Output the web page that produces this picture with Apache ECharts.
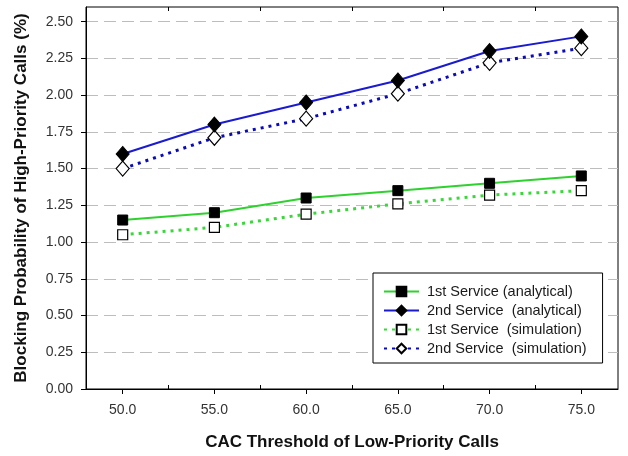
<!DOCTYPE html>
<html>
<head>
<meta charset="utf-8">
<script src="https://cdn.jsdelivr.net/npm/echarts@6/dist/echarts.min.js"></script>
<style>html,body{margin:0;padding:0;background:#fff;}#chart{width:628px;height:456px;}</style>
</head>
<body>
<div id="chart"></div>
<script>
var thresholds = [50, 55, 60, 65, 70, 75];
var service1Analytical = [1.15, 1.20, 1.30, 1.35, 1.40, 1.45];
var service2Analytical = [1.60, 1.80, 1.95, 2.10, 2.30, 2.40];
var service1Simulation = [1.05, 1.10, 1.19, 1.26, 1.32, 1.35];
var service2Simulation = [1.50, 1.71, 1.84, 2.01, 2.22, 2.32];
var xTickValues = [50, 55, 60, 65, 70, 75];
var xMinorTickValues = [52.5, 57.5, 62.5, 67.5, 72.5];
var yTickValues = [0, 0.25, 0.5, 0.75, 1.0, 1.25, 1.5, 1.75, 2.0, 2.25, 2.5];
var seriesNames = ['1st Service (analytical)', '2nd Service  (analytical)', '1st Service  (simulation)', '2nd Service  (simulation)'];

function pairs(ys) { return thresholds.map(function (x, i) { return [x, ys[i]]; }); }

var FONT = '"Liberation Sans", Arial, sans-serif';
var chart = echarts.init(document.getElementById('chart'), null, { renderer: 'canvas' });
chart.setOption({
  animation: false,
  backgroundColor: '#fff',
  grid: { left: 86, right: 10, top: 7, bottom: 66, show: true, borderColor: '#000', borderWidth: 1, backgroundColor: 'transparent' },
  xAxis: [{
    type: 'value', min: 48, max: 77, position: 'bottom',
    name: 'CAC Threshold of Low-Priority Calls', nameLocation: 'middle', nameGap: 45,
    nameTextStyle: { fontFamily: FONT, fontSize: 17, fontWeight: 'bold', color: '#111' },
    axisLine: { show: true, lineStyle: { color: '#000', width: 1 } },
    axisTick: { show: true, length: 5, customValues: xTickValues, lineStyle: { color: '#000' } },
    axisLabel: { customValues: xTickValues, margin: 14, fontFamily: FONT, fontSize: 14, color: '#333',
      formatter: function (v) { return v.toFixed(1); } },
    splitLine: { show: false }
  }, {
    type: 'value', min: 48, max: 77, position: 'bottom', gridIndex: 0,
    axisLine: { show: false },
    axisTick: { show: true, inside: true, length: 4, customValues: xMinorTickValues, lineStyle: { color: '#000' } },
    axisLabel: { show: false }, splitLine: { show: false }
  }, {
    type: 'value', min: 48, max: 77, position: 'top', gridIndex: 0,
    axisLine: { show: false },
    axisTick: { show: true, inside: true, length: 4, customValues: xMinorTickValues, lineStyle: { color: '#000' } },
    axisLabel: { show: false }, splitLine: { show: false }
  }],
  yAxis: {
    type: 'value', min: 0, max: 2.6, interval: 0.25,
    name: 'Blocking Probability of High-Priority Calls (%)', nameLocation: 'middle', nameGap: 56,
    nameTextStyle: { fontFamily: FONT, fontSize: 17, fontWeight: 'bold', color: '#111' },
    axisLine: { show: true, lineStyle: { color: '#000', width: 1 } },
    axisTick: { show: true, length: 5, customValues: yTickValues, lineStyle: { color: '#000' } },
    axisLabel: { customValues: yTickValues, margin: 13, fontFamily: FONT, fontSize: 14, color: '#333',
      formatter: function (v) { return v.toFixed(2); } },
    splitLine: { show: true, lineStyle: { color: '#bdbdbd', width: 1.2, type: [12, 6] } }
  },
  legend: {
    orient: 'vertical', left: 373, top: 273,
    backgroundColor: '#fff', borderColor: '#000', borderWidth: 1,
    padding: [11, 16, 7, 10], itemGap: 4, itemWidth: 35, itemHeight: 12,
    textStyle: { fontFamily: FONT, fontSize: 14.5, lineHeight: 14, color: '#1a1a1a', padding: [0, 0, 0, 3] },
    data: seriesNames
  },
  series: [{
    name: seriesNames[0], type: 'line', data: pairs(service1Analytical),
    symbol: 'rect', symbolSize: 10,
    lineStyle: { color: '#2fd12f', width: 2 },
    itemStyle: { color: '#000', borderColor: '#000', borderWidth: 1 },
    z: 3
  }, {
    name: seriesNames[1], type: 'line', data: pairs(service2Analytical),
    symbol: 'diamond', symbolSize: [13, 15],
    lineStyle: { color: '#1a1ad0', width: 2 },
    itemStyle: { color: '#000', borderColor: '#000', borderWidth: 1 },
    z: 3
  }, {
    name: seriesNames[2], type: 'line', data: pairs(service1Simulation),
    symbol: 'rect', symbolSize: 10,
    lineStyle: { color: '#3ad63a', width: 3, type: [3, 5] },
    itemStyle: { color: '#fff', borderColor: '#000', borderWidth: 1.2 },
    z: 2
  }, {
    name: seriesNames[3], type: 'line', data: pairs(service2Simulation),
    symbol: 'diamond', symbolSize: [13, 15],
    lineStyle: { color: '#0a0ab8', width: 3, type: [3, 5] },
    itemStyle: { color: '#fff', borderColor: '#000', borderWidth: 1.2 },
    z: 2
  }]
});
</script>
</body>
</html>
